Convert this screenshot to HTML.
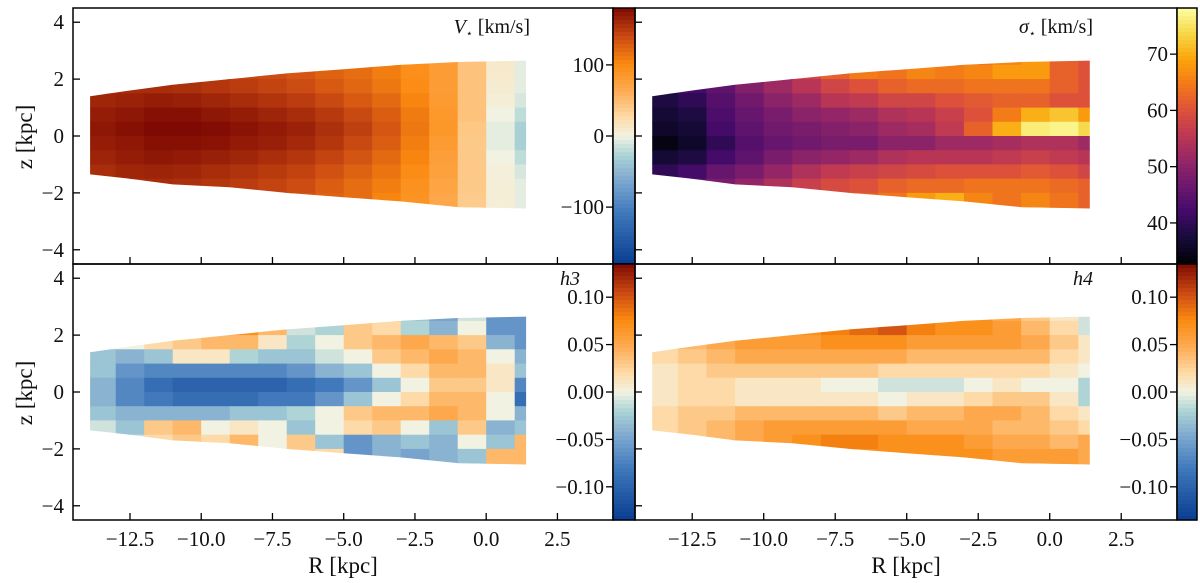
<!DOCTYPE html>
<html><head><meta charset="utf-8">
<style>
html,body{margin:0;padding:0;background:#fff;}
svg{display:block;font-family:"Liberation Serif","DejaVu Serif",serif;}
</style></head>
<body>
<svg id="fig" width="1200" height="583" viewBox="0 0 1200 583" xmlns="http://www.w3.org/2000/svg"></svg>
<script>
const rCenters = [-13.5,-12.5,-11.5,-10.5,-9.5,-8.5,-7.5,-6.5,-5.5,-4.5,-3.5,-2.5,-1.5,-0.5,0.5,1.5];
const zCenters = [2.75,2.25,1.75,1.25,0.75,0.25,-0.25,-0.75,-1.25,-1.75,-2.25,-2.75];
const xTicks = [-12.5,-10.0,-7.5,-5.0,-2.5,0.0,2.5];
const yTicks = [4,2,0,-2,-4];
const shapeTop = [[-13.9,1.4],[-12.5,1.6],[-11,1.8],[-9,2.0],[-7,2.2],[-5,2.35],[-3,2.5],[-1,2.6],[1.4,2.65]];
const shapeBottom = [[1.4,-2.55],[-1,-2.5],[-3,-2.3],[-5,-2.15],[-7,-2.0],[-9,-1.8],[-11,-1.7],[-12.5,-1.5],[-13.9,-1.35]];

const vGrid = [
[150,152,152,150,146,142,138,132,125,118,108,95,80,45,10,-5],
[150,152,152,150,146,142,138,132,125,118,108,95,80,45,10,-5],
[155,158,158,156,152,148,143,138,130,122,112,98,80,45,8,-5],
[162,165,168,166,162,158,153,148,140,130,120,104,82,45,5,-10],
[168,172,176,176,172,168,163,158,150,140,128,110,85,45,0,-20],
[172,176,180,180,178,174,170,165,156,146,132,112,86,42,-5,-30],
[168,172,176,176,174,170,166,160,152,140,128,108,82,40,-5,-30],
[164,168,172,170,166,162,157,152,143,133,120,104,78,40,0,-20],
[158,162,164,162,158,154,149,144,135,125,114,98,75,40,3,-10],
[152,156,158,156,152,148,143,138,128,118,108,93,72,40,5,-5],
[148,152,152,150,146,142,138,132,125,118,104,90,68,38,5,-5],
[148,152,152,150,146,142,138,132,125,118,104,90,68,38,5,-5]];
const sGrid = [
[42,43,46,50,54,58,62,64,64,66,64,64,66,68,62,60],
[42,43,46,50,54,58,62,65,64,66,65,66,68,68,62,60],
[40,42,45,49,52,55,58,60,62,63,63,64,64,64,62,60],
[38,40,44,47,50,52,55,56,58,58,60,61,62,62,60,60],
[37,38,43,46,48,50,51,52,54,55,57,60,65,70,72,68],
[36,37,42,45,47,48,49,50,52,53,56,62,70,76,77,74],
[34,36,40,44,46,47,48,48,50,50,52,52,53,54,54,52],
[37,38,42,45,48,50,51,52,54,55,55,55,56,57,56,55],
[40,42,46,48,51,54,56,57,58,59,60,60,60,61,60,58],
[43,45,48,51,54,57,59,60,62,63,63,64,64,64,63,62],
[45,46,49,52,56,58,60,62,64,68,70,66,64,66,64,62],
[45,46,49,52,56,58,60,62,64,68,70,66,64,66,64,62]];
const h3Grid = [
[0,0.01,0.03,0.04,0.05,0.05,0.03,-0.01,-0.02,0.03,0.01,-0.03,-0.05,-0.01,-0.06,-0.06],
[0,0.01,0.03,0.05,0.06,0.07,0.04,-0.01,-0.02,0.03,0.02,-0.02,-0.04,0.0,-0.06,-0.06],
[-0.01,0,0.02,0.03,0.04,0.04,0.01,-0.02,0.0,0.03,0.04,0.05,0.04,0.03,-0.04,-0.06],
[-0.03,-0.04,-0.03,0.01,0.01,-0.02,-0.03,-0.03,-0.01,0.0,0.03,0.04,0.05,0.04,0.0,-0.04],
[-0.03,-0.06,-0.07,-0.07,-0.07,-0.07,-0.07,-0.06,-0.04,-0.03,0.0,0.02,0.04,0.04,0.01,-0.03],
[-0.04,-0.07,-0.09,-0.1,-0.1,-0.1,-0.1,-0.09,-0.08,-0.06,-0.03,0.0,0.03,0.03,0.01,-0.07],
[-0.04,-0.07,-0.08,-0.09,-0.09,-0.09,-0.08,-0.08,-0.06,-0.03,0.0,0.02,0.04,0.04,0.0,-0.09],
[-0.03,-0.04,-0.04,-0.04,-0.04,-0.03,-0.03,-0.02,0.0,0.03,0.04,0.04,0.05,0.04,0.0,-0.04],
[-0.01,-0.03,0.03,0.04,0.0,0.01,0.0,-0.03,0.0,0.02,0.03,0.0,-0.03,0.03,-0.04,-0.03],
[-0.01,-0.01,0.02,0.03,0.02,0.04,0.0,0.03,-0.03,-0.06,-0.04,-0.03,-0.04,0.0,-0.03,0.04],
[0.0,0.0,0.03,0.03,0.02,0.04,0.0,0.03,0.02,-0.06,-0.04,-0.05,-0.04,-0.03,0.04,0.04],
[0.0,0.0,0.03,0.03,0.02,0.04,0.0,0.03,0.02,-0.06,-0.04,-0.05,-0.04,-0.03,0.04,0.04]];
const h4Grid = [
[0.03,0.04,0.05,0.06,0.06,0.07,0.08,0.1,0.11,0.08,0.06,0.07,0.05,0.03,0.01,-0.01],
[0.03,0.04,0.05,0.06,0.07,0.07,0.08,0.09,0.1,0.08,0.07,0.07,0.06,0.04,0.02,-0.01],
[0.03,0.04,0.05,0.06,0.06,0.06,0.07,0.07,0.07,0.06,0.06,0.06,0.06,0.05,0.03,0.01],
[0.02,0.03,0.04,0.05,0.05,0.05,0.05,0.05,0.05,0.04,0.04,0.04,0.04,0.04,0.02,0.01],
[0.01,0.02,0.03,0.03,0.03,0.03,0.03,0.03,0.02,0.02,0.02,0.02,0.02,0.02,0.01,0.0],
[0.01,0.02,0.02,0.01,0.01,0.01,0.0,0.0,-0.01,-0.01,-0.01,0.0,0.01,0.0,0.0,-0.02],
[0.01,0.02,0.02,0.01,0.01,0.01,0.01,0.01,0.0,0.01,0.01,0.02,0.03,0.03,0.01,-0.02],
[0.02,0.03,0.03,0.04,0.04,0.04,0.04,0.04,0.03,0.04,0.04,0.05,0.05,0.04,0.02,0.01],
[0.02,0.03,0.04,0.05,0.06,0.06,0.06,0.06,0.06,0.05,0.05,0.05,0.04,0.04,0.03,0.02],
[0.03,0.03,0.04,0.05,0.06,0.07,0.08,0.08,0.07,0.07,0.07,0.06,0.05,0.05,0.04,0.05],
[0.03,0.03,0.04,0.05,0.07,0.07,0.07,0.07,0.07,0.07,0.07,0.07,0.06,0.06,0.06,0.05],
[0.03,0.03,0.04,0.05,0.07,0.07,0.07,0.07,0.07,0.07,0.07,0.07,0.06,0.06,0.06,0.05]];

const vTicks = [100,0,-100];
const vTickLabels = ["100","0","\u2212100"];
const sTicks = [70,60,50,40];
const sTickLabels = ["70","60","50","40"];
const hTicks = [0.10,0.05,0.00,-0.05,-0.10];
const hTickLabels = ["0.10","0.05","0.00","\u22120.05","\u22120.10"];

const NS = "http://www.w3.org/2000/svg";
const svg = document.getElementById('fig');
function mk(tag, attrs, parent){ const e=document.createElementNS(NS,tag); for(const k in attrs) e.setAttribute(k,attrs[k]); (parent||svg).appendChild(e); return e; }

const divStops=[[0,'#0a3d91'],[0.2,'#3f78bb'],[0.33,'#7ea9d0'],[0.43,'#b0d6d6'],[0.5,'#f2f2e2'],[0.57,'#fddcaa'],[0.68,'#fdaa50'],[0.78,'#fb8a10'],[0.88,'#cf4e13'],[1,'#7f0a03']];
const infStops=[[0,'#000004'],[0.1,'#160b39'],[0.2,'#420a68'],[0.3,'#6a176e'],[0.4,'#932667'],[0.5,'#bc3754'],[0.6,'#dd513a'],[0.7,'#f37819'],[0.8,'#fca50a'],[0.9,'#f6d746'],[1,'#fcffa4']];
function hex(c){return [parseInt(c.slice(1,3),16),parseInt(c.slice(3,5),16),parseInt(c.slice(5,7),16)];}
function cmap(stops,t){ t=Math.max(0,Math.min(1,t)); for(let i=1;i<stops.length;i++){ if(t<=stops[i][0]){ const a=stops[i-1],b=stops[i]; const f=(t-a[0])/(b[0]-a[0]); const A=hex(a[1]),B=hex(b[1]); return 'rgb('+A.map((v,j)=>Math.round(v+(B[j]-v)*f)).join(',')+')'; } } return stops[stops.length-1][1]; }

const panels = [
 {name:'velocity', x0:73,x1:613,y0:8,y1:264, grid:vGrid, vmin:-180,vmax:180, stops:divStops, cb:{x0:613,x1:635,ticks:vTicks,labels:vTickLabels}, title:'V', titleX:530, titleY:33, xlab:false, ylab:true},
 {name:'dispersion', x0:635,x1:1177,y0:8,y1:264, grid:sGrid, vmin:32.7,vmax:78.2, stops:infStops, cb:{x0:1177,x1:1197,ticks:sTicks,labels:sTickLabels}, title:'σ', titleX:1093, titleY:33, xlab:false, ylab:false},
 {name:'h3', x0:73,x1:613,y0:264,y1:520, grid:h3Grid, vmin:-0.135,vmax:0.135, stops:divStops, cb:{x0:613,x1:635,ticks:hTicks,labels:hTickLabels}, title:'h3', titleX:580, titleY:285, xlab:true, ylab:true},
 {name:'h4', x0:635,x1:1177,y0:264,y1:520, grid:h4Grid, vmin:-0.135,vmax:0.135, stops:divStops, cb:{x0:1177,x1:1197,ticks:hTicks,labels:hTickLabels}, title:'h4', titleX:1093, titleY:285, xlab:true, ylab:false}
];
const RMIN=-14.5, RMAX=4.45, ZMIN=-4.5, ZMAX=4.5;

panels.forEach((p,pi)=>{
  const sx = r => p.x0 + (r-RMIN)/(RMAX-RMIN)*(p.x1-p.x0);
  const sy = z => p.y1 - (z-ZMIN)/(ZMAX-ZMIN)*(p.y1-p.y0);
  const g = mk('g',{});
  
  
  const cp = mk('clipPath',{id:'clip'+pi}, g);
  const pts = shapeTop.concat(shapeBottom).map(q=>sx(q[0]).toFixed(1)+','+sy(q[1]).toFixed(1)).join(' ');
  mk('polygon',{points:pts}, cp);
  const mapG = mk('g',{'clip-path':'url(#clip'+pi+')'}, g);
  
  
  p.grid.forEach((row,ri)=>{
    row.forEach((v,ci)=>{
      const r=rCenters[ci], z=zCenters[ri];
      const x=sx(r-0.5), y=sy(z+0.25);
      const c = cmap(p.stops,(v-p.vmin)/(p.vmax-p.vmin));
      const rect = mk('rect',{x:x.toFixed(1),y:y.toFixed(1),width:(sx(r+0.5)-x+0.6).toFixed(1),height:(sy(z-0.25)-y+0.6).toFixed(1),fill:c}, mapG);
      
      
    });
  });
  const fr = mk('rect',{x:p.x0,y:p.y0,width:p.x1-p.x0,height:p.y1-p.y0,fill:'none',stroke:'#000','stroke-width':1.5}, g);
  
  
  xTicks.forEach(t=>{ const x=sx(t); mk('line',{x1:x,x2:x,y1:p.y1,y2:p.y1-7,stroke:'#000','stroke-width':1.3}, g);
    if(p.xlab){ const tx=mk('text',{x:x,y:546,'text-anchor':'middle','font-size':21,fill:'#111'}, g); tx.textContent=(t<0?'\u2212':'')+Math.abs(t).toFixed(1);
        } });
  yTicks.forEach(t=>{ const y=sy(t); mk('line',{x1:p.x0,x2:p.x0+7,y1:y,y2:y,stroke:'#000','stroke-width':1.3}, g);
    if(p.ylab){ const ty=mk('text',{x:64,y:y+7,'text-anchor':'end','font-size':21,fill:'#111'}, g); ty.textContent=(t<0?'\u2212':'')+Math.abs(t);
        } });
  const tt = mk('text',{x:p.titleX,y:p.titleY,'text-anchor':'end','font-size':20,fill:'#111'}, g);
  
  
  if(p.title==='V'||p.title==='σ'){
    const a=mk('tspan',{'font-style':'italic'},tt); a.textContent=p.title;
    const b=mk('tspan',{'font-size':11,dy:4},tt); b.textContent='\u22C6';
    const c=mk('tspan',{dy:-4},tt); c.textContent=' [km/s]';
  } else { const a=mk('tspan',{'font-style':'italic'},tt); a.textContent=p.title; }
  const cb = p.cb;
  const cbg = mk('g',{}, g);
  
  
  const n=64;
  for(let i=0;i<n;i++){
    const y=p.y0+(p.y1-p.y0)*i/n;
    mk('rect',{x:cb.x0,y:y.toFixed(1),width:cb.x1-cb.x0,height:((p.y1-p.y0)/n+0.6).toFixed(1),fill:cmap(p.stops,1-(i+0.5)/n)}, cbg);
  }
  mk('rect',{x:cb.x0,y:p.y0,width:cb.x1-cb.x0,height:p.y1-p.y0,fill:'none',stroke:'#000','stroke-width':1.5}, cbg);
  const cy = v => p.y1-(v-p.vmin)/(p.vmax-p.vmin)*(p.y1-p.y0);
  cb.ticks.forEach((t,i)=>{ const y=cy(t);
    mk('line',{x1:cb.x0-7,x2:cb.x0,y1:y,y2:y,stroke:'#000','stroke-width':1.3}, cbg);
    const tl=mk('text',{x:cb.x0-9,y:y+7,'text-anchor':'end','font-size':21,fill:'#111'}, cbg); tl.textContent=cb.labels[i];
      });
});

[137,393].forEach(yc=>{ const t=mk('text',{x:0,y:0,transform:'translate(32,'+yc+') rotate(-90)','text-anchor':'middle','font-size':23,fill:'#111'}); t.textContent='z [kpc]';
    });
[343,906].forEach(x=>{ const t=mk('text',{x:x,y:573,'text-anchor':'middle','font-size':23,fill:'#111'}); t.textContent='R [kpc]';
    });
</script>
</body></html>
